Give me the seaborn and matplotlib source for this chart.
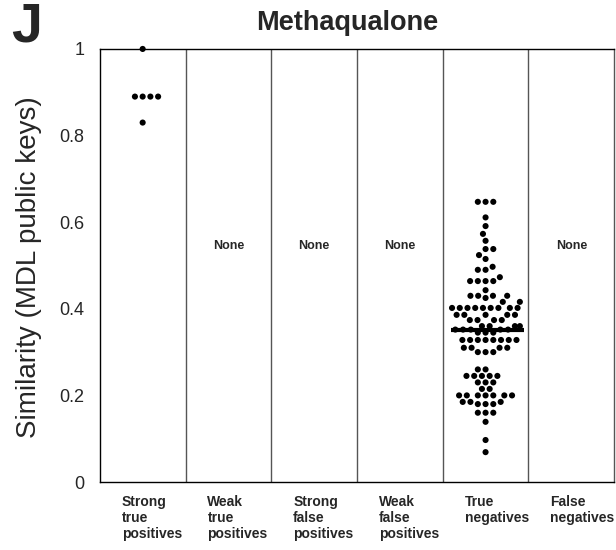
import numpy as np
import pandas as pd
import matplotlib
matplotlib.use("Agg")
import matplotlib.pyplot as plt
import matplotlib.transforms as mtransforms
import seaborn as sns

categories = ["Strong\ntrue\npositives", "Weak\ntrue\npositives", "Strong\nfalse\npositives",
              "Weak\nfalse\npositives", "True\nnegatives", "False\nnegatives"]

strong_tp = [1.0, 0.89, 0.89, 0.89, 0.89, 0.83]

true_neg = (
    [0.647] * 3 + [0.611, 0.591, 0.573, 0.557] + [0.538] * 2 + [0.524, 0.515]
    + [0.497] + [0.49] * 2 + [0.473] + [0.464] * 4
    + [0.443] + [0.43] * 4 + [0.425]
    + [0.416] * 2 + [0.402] * 9
    + [0.386] * 5 + [0.374] * 4
    + [0.36] * 4 + [0.352] * 5 + [0.345] * 3
    + [0.328] * 8 + [0.31] * 4 + [0.30] * 3
    + [0.26] * 2 + [0.245] * 5 + [0.23] * 3
    + [0.215] * 2 + [0.2] * 7 + [0.185] * 3 + [0.18] * 3
    + [0.16] * 3 + [0.139, 0.097, 0.069]
)

tn_center_line = 0.35
empty_labels = ["None", "None", "None", "None"]
empty_positions = [1, 2, 3, 5]

df = pd.DataFrame({
    "group": [categories[0]] * len(strong_tp) + [categories[4]] * len(true_neg),
    "value": strong_tp + true_neg,
})

sns.set_theme(style="white")
plt.rcParams["font.family"] = ["Liberation Sans", "DejaVu Sans"]

fig = plt.figure(figsize=(6.16, 5.5), dpi=100)
ax = fig.add_axes([0.162, 0.1236, 0.835, 0.7874])

sns.swarmplot(data=df, x="group", y="value", order=categories, color="black",
              size=4.4, linewidth=0.9, edgecolor="none", ax=ax, clip_on=False)

# drop any empty collections (categories without data)
for coll in list(ax.collections):
    if len(coll.get_offsets()) == 0:
        coll.remove()

ax.set_xlim(-0.5, 5.5)
ax.set_ylim(0, 1)

for xb in [0.5, 1.5, 2.5, 3.5, 4.5]:
    ax.axvline(xb, color="#555555", lw=1.0, zorder=0.5)

ax.hlines(tn_center_line, 4 - 0.4, 4 + 0.45, color="black", lw=3, zorder=5)

for pos, lab in zip(empty_positions, empty_labels):
    ax.text(pos, 0.545, lab, ha="center", va="center", fontsize=9, fontweight="bold")

for sp in ["left", "bottom", "top"]:
    ax.spines[sp].set_color("black")
    ax.spines[sp].set_linewidth(1.0)
ax.spines["right"].set_color("#555555")
ax.spines["right"].set_linewidth(1.0)

ax.set_yticks([0, 0.2, 0.4, 0.6, 0.8, 1])
ax.set_yticklabels(["0", "0.2", "0.4", "0.6", "0.8", "1"], fontsize=13)
ax.tick_params(axis="y", length=0, pad=11)
ax.tick_params(axis="x", length=0, pad=9)
ax.set_xticks(range(6))
ax.set_xticklabels(categories, fontsize=10, fontweight="bold", ha="left", linespacing=1.2)
offset = mtransforms.ScaledTranslation(-0.21, 0, fig.dpi_scale_trans)
for lab in ax.get_xticklabels():
    lab.set_transform(lab.get_transform() + offset)

ax.set_xlabel("")
ax.set_ylabel("")
fig.text(0.047, 0.515, "Similarity (MDL public keys)", rotation=90, fontsize=20,
         ha="center", va="center")
fig.text(0.563, 0.9455, "Methaqualone", fontsize=19.5, fontweight="bold",
         ha="center", va="baseline")

fig.text(0.018, 0.924, "J", fontsize=40, fontweight="bold", ha="left", va="baseline")

fig.savefig("out.png", dpi=100)
